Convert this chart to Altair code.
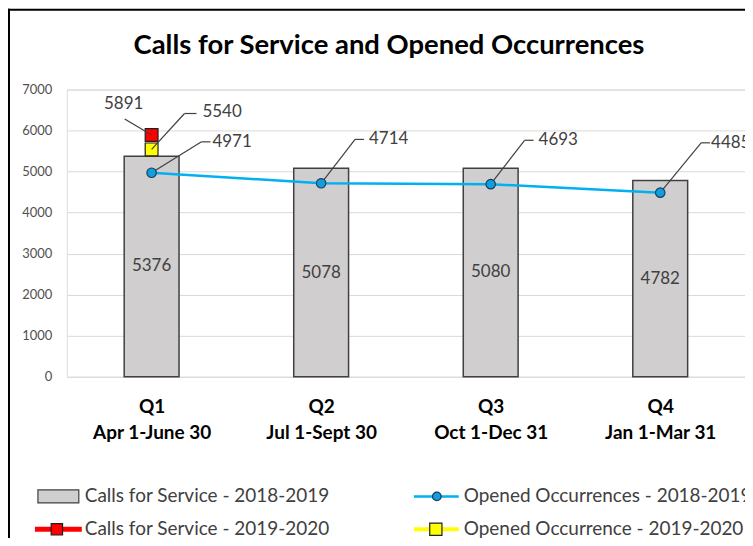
import altair as alt
import pandas as pd

quarters = ["Q1", "Q2", "Q3", "Q4"]
ranges = ["Apr 1-June 30", "Jul 1-Sept 30", "Oct 1-Dec 31", "Jan 1-Mar 31"]
calls_1819 = [5376, 5078, 5080, 4782]
occ_1819 = [4971, 4714, 4693, 4485]
calls_1920_q = ["Q1"]
calls_1920 = [5891]
occ_1920_q = ["Q1"]
occ_1920 = [5540]

legend_labels = [
    "Calls for Service - 2018-2019",
    "Opened Occurrences - 2018-2019",
    "Calls for Service - 2019-2020",
    "Opened Occurrence - 2019-2020",
]
title_text = "Calls for Service and Opened Occurrences"

FONT = "Lato"
TXT = "#404040"

main = pd.DataFrame({"q": quarters, "idx": list(range(len(quarters))),
                     "calls": calls_1819, "occ": occ_1819})
red = pd.DataFrame({"q": calls_1920_q, "idx": [quarters.index(q) for q in calls_1920_q], "val": calls_1920})
yel = pd.DataFrame({"q": occ_1920_q, "idx": [quarters.index(q) for q in occ_1920_q], "val": occ_1920})

label_arr = "[" + ",".join("['%s','%s']" % (q, r) for q, r in zip(quarters, ranges)) + "]"

X = alt.X("idx:Q", scale=alt.Scale(domain=[-0.5, 3.5], nice=False, zero=False, padding=0),
          axis=alt.Axis(values=[0, 1, 2, 3], labelExpr=label_arr + "[datum.value]",
                        title=None, grid=False, domain=False, ticks=False,
                        labelFont=FONT, labelFontSize=19, labelFontWeight="bold",
                        labelColor="#000000", labelPadding=21, labelLineHeight=26))


def Y(field):
    return alt.Y(field, scale=alt.Scale(domain=[0, 7000], nice=False),
                 axis=alt.Axis(values=list(range(0, 7001, 1000)), title=None, format="d",
                               domain=False, ticks=False, labelPadding=15,
                               labelFont=FONT, labelFontSize=13, labelColor="#505050",
                               gridColor="#D9D9D9", gridWidth=1))


bars = alt.Chart(main).mark_bar(width=55, color="#D0CECE", stroke="#404040",
                                strokeWidth=1.5).encode(x=X, y=Y("calls:Q"))
bar_text = alt.Chart(main).transform_calculate(half="datum.calls/2").mark_text(
    font=FONT, fontSize=17, color=TXT).encode(x=X, y=Y("half:Q"), text="calls:Q")

line = alt.Chart(main).mark_line(color="#00B0F0", strokeWidth=2.5).encode(x=X, y=Y("occ:Q"))
pts = alt.Chart(main).mark_point(shape="circle", size=90, filled=True, fill="#0FA0DC",
                                 stroke="#1F3A5F", strokeWidth=1.2, opacity=1).encode(x=X, y=Y("occ:Q"))

red_pt = alt.Chart(red).mark_square(size=165, color="#FF0000", stroke="#202020",
                                    strokeWidth=1.2, opacity=1).encode(x=X, y=Y("val:Q"))
yel_pt = alt.Chart(yel).mark_square(size=165, color="#FFFF00", stroke="#202020",
                                    strokeWidth=1.2, opacity=1).encode(x=X, y=Y("val:Q"))


def callout(df, field, dx, dy, hlen, tdx, align="left", tdy=None, filt=None):
    base = alt.Chart(df)
    if filt is not None:
        base = base.transform_filter(filt)
    if tdy is None:
        tdy = dy
    diag = base.mark_rule(color="#404040", strokeWidth=1.2, x2Offset=dx, y2Offset=dy).encode(
        x=X, x2=alt.X2("idx:Q"), y=Y(field), y2=alt.Y2(field))
    layers = [diag]
    if hlen:
        hor = base.mark_rule(color="#404040", strokeWidth=1.2, xOffset=dx, x2Offset=dx + hlen,
                             yOffset=dy, y2Offset=dy).encode(
            x=X, x2=alt.X2("idx:Q"), y=Y(field), y2=alt.Y2(field))
        layers.append(hor)
    txt = base.mark_text(font=FONT, fontSize=17, color=TXT, align=align, baseline="middle",
                         dx=tdx, dy=tdy).encode(x=X, y=Y(field), text=alt.Text(field))
    layers.append(txt)
    return layers


c_q1 = callout(main, "occ:Q", 50, -31, 9, 61, filt="datum.idx == 0")
c_q23 = callout(main, "occ:Q", 34, -44, 9, 48, filt="datum.idx == 1 || datum.idx == 2")
c_q4 = callout(main, "occ:Q", 41, -50, 9, 51, filt="datum.idx == 3")
c_yel = callout(yel, "val:Q", 33, -36, 12, 51, tdy=-37)
c_red = callout(red, "val:Q", -27, -16, 0, -28, align="center", tdy=-31)

one = pd.DataFrame({"t": [title_text]})
title = alt.Chart(one).mark_text(font=FONT, fontSize=27.5, fontWeight="bold", color="#000000",
                                 baseline="middle").encode(
    x=alt.value(323), y=alt.value(-44), text="t:N")

border_l = alt.Chart(one).mark_rule(color="#000000", strokeWidth=2).encode(
    x=alt.value(-58), y=alt.value(-81), y2=alt.value(470))
border_t = alt.Chart(one).mark_rule(color="#000000", strokeWidth=2).encode(
    x=alt.value(-59), x2=alt.value(700), y=alt.value(-80))

# legend
leg = pd.DataFrame({"t": legend_labels})
ly1, ly2 = 408, 441


def leg_text(i, x, y):
    return alt.Chart(leg).transform_filter(alt.datum.t == legend_labels[i]).mark_text(
        font=FONT, fontSize=19, color=TXT, align="left", baseline="middle").encode(
        x=alt.value(x), y=alt.value(y), text="t:N")


leg_box = alt.Chart(one).mark_rect(fill="#D0CECE", stroke="#404040", strokeWidth=1.2).encode(
    x=alt.value(-29), x2=alt.value(12), y=alt.value(ly1 - 6.5), y2=alt.value(ly1 + 6.5))
leg_blue_line = alt.Chart(one).mark_rule(color="#00B0F0", strokeWidth=2.5).encode(
    x=alt.value(348), x2=alt.value(393), y=alt.value(ly1))
leg_blue_pt = alt.Chart(one).mark_point(shape="circle", size=75, filled=True, fill="#0FA0DC",
                                        stroke="#1F3A5F", strokeWidth=1.2, opacity=1).encode(
    x=alt.value(371), y=alt.value(ly1))
leg_red_line = alt.Chart(one).mark_rule(color="#FF0000", strokeWidth=5).encode(
    x=alt.value(-32), x2=alt.value(15), y=alt.value(ly2))
leg_red_pt = alt.Chart(one).mark_square(size=130, color="#FF0000", stroke="#202020",
                                        strokeWidth=1.2, opacity=1).encode(
    x=alt.value(-10), y=alt.value(ly2))
leg_yel_line = alt.Chart(one).mark_rule(color="#FFFF00", strokeWidth=4).encode(
    x=alt.value(348), x2=alt.value(393), y=alt.value(ly2))
leg_yel_pt = alt.Chart(one).mark_square(size=150, color="#FFFF00", stroke="#202020",
                                        strokeWidth=1.2, opacity=1).encode(
    x=alt.value(370), y=alt.value(ly2))

layers = [bars, bar_text, line] + c_q1 + c_q23 + c_q4 + [pts, red_pt, yel_pt] + c_yel + c_red + [
    title, border_l, border_t,
    leg_box, leg_blue_line, leg_blue_pt, leg_red_line, leg_red_pt, leg_yel_line, leg_yel_pt,
    leg_text(0, 18, ly1), leg_text(1, 398, ly1), leg_text(2, 18, ly2), leg_text(3, 398, ly2)]

chart = alt.layer(*layers).properties(
    width=680, height=288,
    autosize=alt.AutoSizeParams(type="none"),
    padding={"left": 59, "top": 81, "right": 0, "bottom": 161},
).configure_view(stroke=None).configure(background="#FFFFFF")

chart.save("out.html", embed_options={"renderer": "svg", "actions": False})
